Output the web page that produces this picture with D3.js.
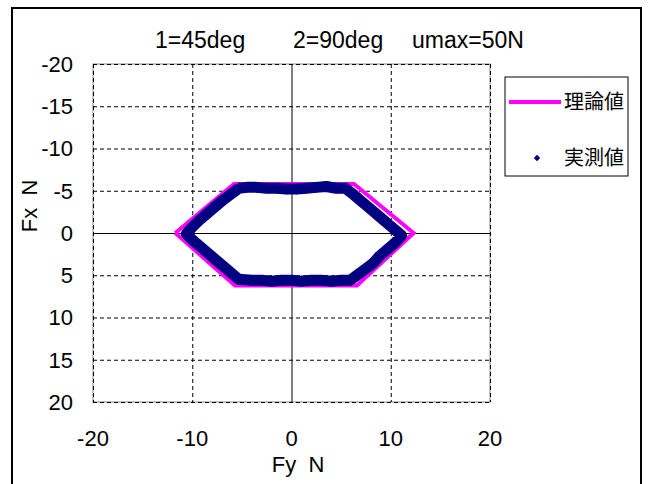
<!DOCTYPE html>
<html>
<head>
<meta charset="utf-8">
<script src="https://cdn.jsdelivr.net/npm/d3@7"></script>
<style>
  body { margin: 0; background: #fff; }
  svg { display: block; font-family: "Liberation Sans", Arial, sans-serif; }
</style>
</head>
<body>
<svg id="chart" width="650" height="484"></svg>
<script>
// ticks
var xTicks = [-20, -10, 0, 10, 20];
var yTicks = [-20, -15, -10, -5, 0, 5, 10, 15, 20];

// theoretical hexagon (Fy, Fx)
var theoryFy = [-11.7, -5.8, 6.3, 12.3, 6.6, -5.7, -11.7];
var theoryFx = [0, -5.8, -5.8, 0, 6.2, 6.2, 0];

// measured trace (Fy, Fx), read along the band
var measFy = [-5.3, -4.5, -3.5, -2.5, -1.5, -0.5, 0.5, 1.5, 2.5, 3.5, 4.5, 5.4,
  6.3, 7.2, 8.1, 9.0, 9.9, 10.6, 11.1,
  10.4, 9.6, 8.9, 8.2, 7.4, 6.6, 5.9,
  5.0, 4.0, 3.0, 2.0, 1.0, 0.0, -1.0, -2.0, -3.0, -4.0, -5.0, -5.3,
  -6.1, -6.9, -7.7, -8.5, -9.3, -10.0, -10.6,
  -10.0, -9.3, -8.5, -7.7, -6.9, -6.1, -5.3];
var measFx = [-5.3, -5.4, -5.4, -5.3, -5.3, -5.2, -5.2, -5.3, -5.4, -5.5, -5.3, -5.3,
  -4.5, -3.6, -2.7, -1.8, -0.9, -0.2, 0.3,
  1.2, 2.0, 2.7, 3.6, 4.3, 5.0, 5.6,
  5.6, 5.7, 5.6, 5.6, 5.7, 5.6, 5.6, 5.7, 5.6, 5.6, 5.5, 5.5,
  4.7, 3.9, 3.1, 2.3, 1.5, 0.8, 0.1,
  -0.7, -1.5, -2.3, -3.1, -3.9, -4.6, -5.3];

var svg = d3.select("#chart");

var x = d3.scaleLinear().domain([-20, 20]).range([93, 490]);
var y = d3.scaleLinear().domain([-20, 20]).range([64, 402]);

// outer frame
svg.append("rect")
  .attr("x", 12).attr("y", 8)
  .attr("width", 629).attr("height", 490)
  .attr("fill", "#fff")
  .attr("stroke", "#000")
  .attr("stroke-width", 2);

// plot frame
svg.append("rect")
  .attr("x", x(-20)).attr("y", y(-20))
  .attr("width", x(20) - x(-20)).attr("height", y(20) - y(-20))
  .attr("fill", "#fff")
  .attr("stroke", "#888")
  .attr("stroke-width", 1);

// grid
var grid = svg.append("g").attr("stroke", "#000").attr("stroke-width", 1);
grid.selectAll(".gx")
  .data(xTicks)
  .enter().append("line")
  .attr("x1", d => x(d) + 0.5).attr("x2", d => x(d) + 0.5)
  .attr("y1", y(-20)).attr("y2", y(20))
  .attr("stroke-dasharray", d => d === 0 ? null : "4,3");
grid.selectAll(".gy")
  .data(yTicks)
  .enter().append("line")
  .attr("y1", d => y(d) + 0.5).attr("y2", d => y(d) + 0.5)
  .attr("x1", x(-20)).attr("x2", x(20))
  .attr("stroke-dasharray", d => d === 0 ? null : "4,3");

// tick labels
svg.append("g")
  .attr("font-size", 22)
  .attr("text-anchor", "end")
  .selectAll("text")
  .data(yTicks)
  .enter().append("text")
  .attr("x", 73)
  .attr("y", d => y(d))
  .attr("dy", "0.36em")
  .text(d => d);

svg.append("g")
  .attr("font-size", 22)
  .attr("text-anchor", "middle")
  .selectAll("text")
  .data(xTicks)
  .enter().append("text")
  .attr("x", d => x(d))
  .attr("y", 446)
  .text(d => d);

// series
var line = d3.line()
  .x(d => x(d[0]))
  .y(d => y(d[1]));

var theory = theoryFy.map((v, i) => [v, theoryFx[i]]);
var meas = measFy.map((v, i) => [v, measFx[i]]);

svg.append("path")
  .datum(theory)
  .attr("d", line)
  .attr("fill", "none")
  .attr("stroke", "#ff00ff")
  .attr("stroke-width", 4)
  .attr("stroke-linejoin", "miter");

svg.append("path")
  .datum(meas)
  .attr("d", line)
  .attr("fill", "none")
  .attr("stroke", "#000080")
  .attr("stroke-width", 11)
  .attr("stroke-linejoin", "round");

var diamond = d3.symbol().type(d3.symbolDiamond2).size(80);
svg.append("g")
  .selectAll("path")
  .data(meas)
  .enter().append("path")
  .attr("transform", d => `translate(${x(d[0])},${y(d[1])})`)
  .attr("d", diamond)
  .attr("fill", "#000080");

// title
var title = svg.append("text")
  .attr("y", 48)
  .attr("font-size", 23);
title.append("tspan").attr("x", 155).text("1=45deg");
title.append("tspan").attr("x", 293).text("2=90deg");
title.append("tspan").attr("x", 412).text("umax=50N");

// axis titles
svg.append("text")
  .attr("x", 298).attr("y", 472)
  .attr("text-anchor", "middle")
  .attr("font-size", 22)
  .style("white-space", "pre")
  .text("Fy  N");

svg.append("text")
  .attr("transform", "translate(37,206) rotate(-90)")
  .attr("text-anchor", "middle")
  .attr("font-size", 22)
  .style("white-space", "pre")
  .text("Fx  N");

// legend
var legend = svg.append("g");
legend.append("rect")
  .attr("x", 505).attr("y", 77)
  .attr("width", 123).attr("height", 99)
  .attr("fill", "#fff")
  .attr("stroke", "#000")
  .attr("stroke-width", 1);
legend.append("line")
  .attr("x1", 509).attr("x2", 561)
  .attr("y1", 102).attr("y2", 102)
  .attr("stroke", "#ff00ff")
  .attr("stroke-width", 4);
legend.append("path")
  .attr("transform", "translate(537,158)")
  .attr("d", d3.symbol().type(d3.symbolDiamond2).size(26))
  .attr("fill", "#000080");
legend.selectAll("text")
  .data(["理論値", "実測値"])
  .enter().append("text")
  .attr("x", 564)
  .attr("y", (d, i) => 102 + i * 56)
  .attr("dy", "0.35em")
  .attr("font-size", 20)
  .attr("font-family", "'Noto Sans CJK JP', sans-serif")
  .text(d => d);
</script>
</body>
</html>
